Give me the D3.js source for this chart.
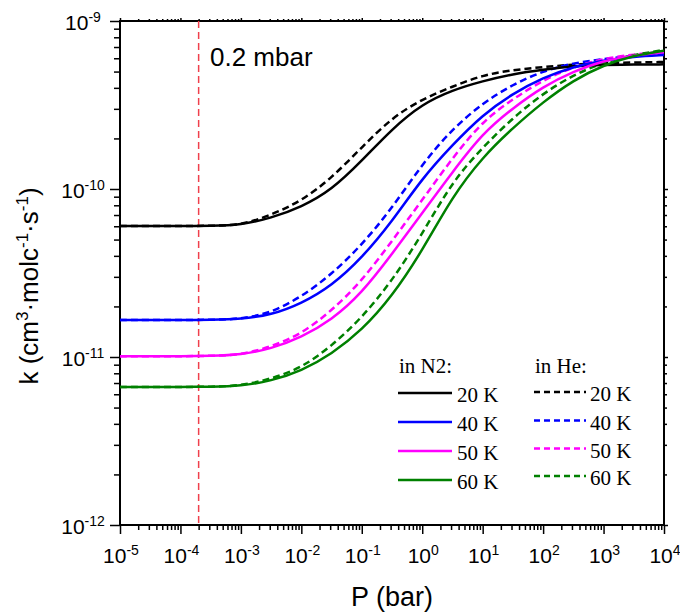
<!DOCTYPE html>
<html>
<head>
<meta charset="utf-8">
<script src="https://cdn.jsdelivr.net/npm/d3@7"></script>
<style>
  body { margin: 0; background: #ffffff; }
  svg { display: block; }
</style>
</head>
<body>
<svg id="chart" width="680" height="613"></svg>
<script>
// Pressure grid (bar), half-decade steps
const pressureBar = [1e-5, 3.16e-5, 1e-4, 3.16e-4, 1e-3, 3.16e-3, 1e-2, 3.16e-2, 0.1, 0.316, 1, 3.16, 10, 31.6, 100, 316, 1000, 3160, 1e4];

// Rate coefficients k (cm^3 molecule^-1 s^-1) in N2 buffer gas
const kN2_20K = [6.02e-11, 6.02e-11, 6.02e-11, 6.04e-11, 6.11e-11, 6.72e-11, 7.81e-11, 9.86e-11, 1.47e-10, 2.28e-10, 3.21e-10, 3.88e-10, 4.39e-10, 4.84e-10, 5.14e-10, 5.40e-10, 5.47e-10, 5.51e-10, 5.52e-10];
const kN2_40K = [1.66e-11, 1.66e-11, 1.66e-11, 1.665e-11, 1.68e-11, 1.78e-11, 2.08e-11, 2.65e-11, 3.88e-11, 6.39e-11, 1.16e-10, 1.83e-10, 2.77e-10, 3.70e-10, 4.60e-10, 5.35e-10, 5.83e-10, 6.14e-10, 6.27e-10];
const kN2_50K = [1.01e-11, 1.01e-11, 1.01e-11, 1.015e-11, 1.03e-11, 1.12e-11, 1.31e-11, 1.66e-11, 2.40e-11, 4.10e-11, 7.20e-11, 1.26e-10, 2.15e-10, 3.03e-10, 4.07e-10, 5.01e-10, 5.82e-10, 6.25e-10, 6.51e-10];
const kN2_60K = [6.63e-12, 6.63e-12, 6.63e-12, 6.65e-12, 6.72e-12, 7.20e-12, 8.25e-12, 1.04e-11, 1.44e-11, 2.29e-11, 4.28e-11, 9.04e-11, 1.55e-10, 2.31e-10, 3.30e-10, 4.44e-10, 5.47e-10, 6.23e-10, 6.66e-10];

// Rate coefficients k in He buffer gas
const kHe_20K = [6.02e-11, 6.02e-11, 6.02e-11, 6.04e-11, 6.08e-11, 7.00e-11, 8.48e-11, 1.16e-10, 1.77e-10, 2.66e-10, 3.43e-10, 4.07e-10, 4.77e-10, 5.11e-10, 5.32e-10, 5.51e-10, 5.62e-10, 5.66e-10, 5.70e-10];
const kHe_40K = [1.66e-11, 1.66e-11, 1.66e-11, 1.665e-11, 1.68e-11, 1.83e-11, 2.28e-11, 3.10e-11, 4.64e-11, 7.67e-11, 1.41e-10, 2.28e-10, 3.24e-10, 4.20e-10, 5.04e-10, 5.62e-10, 5.94e-10, 6.23e-10, 6.41e-10];
const kHe_50K = [1.01e-11, 1.01e-11, 1.01e-11, 1.015e-11, 1.03e-11, 1.15e-11, 1.37e-11, 1.88e-11, 2.83e-11, 4.90e-11, 8.60e-11, 1.53e-10, 2.54e-10, 3.43e-10, 4.46e-10, 5.32e-10, 5.98e-10, 6.32e-10, 6.57e-10];
const kHe_60K = [6.63e-12, 6.63e-12, 6.63e-12, 6.65e-12, 6.74e-12, 7.40e-12, 8.60e-12, 1.16e-11, 1.71e-11, 2.83e-11, 5.40e-11, 1.11e-10, 1.77e-10, 2.65e-10, 3.71e-10, 4.77e-10, 5.68e-10, 6.29e-10, 6.72e-10];

const temperatureLabels = ["20 K", "40 K", "50 K", "60 K"];
const seriesColors = ["#000000", "#0000ff", "#ff00ff", "#008000"];
const seriesN2 = [kN2_20K, kN2_40K, kN2_50K, kN2_60K];
const seriesHe = [kHe_20K, kHe_40K, kHe_50K, kHe_60K];

const xTickExponents = [-5, -4, -3, -2, -1, 0, 1, 2, 3, 4];
const yTickExponents = [-12, -11, -10, -9];

const markerPressure = 2e-4;
const markerLabel = "0.2 mbar";

// ---------------------------------------------------------------
const svg = d3.select("#chart");
const plot = { left: 120, right: 664, top: 21, bottom: 525 };

const x = d3.scaleLog().domain([1e-5, 1e4]).range([plot.left, plot.right]);
const y = d3.scaleLog().domain([1e-12, 1e-9]).range([plot.bottom, plot.top]);

function minorValues(exps) {
  const out = [];
  for (let i = 0; i < exps.length - 1; i++) {
    for (let j = 2; j <= 9; j++) out.push(j * Math.pow(10, exps[i]));
  }
  return out;
}
const xMajor = xTickExponents.map(e => Math.pow(10, e));
const yMajor = yTickExponents.map(e => Math.pow(10, e));
const xMinor = minorValues(xTickExponents);
const yMinor = minorValues(yTickExponents);

svg.append("defs").append("clipPath").attr("id", "plotClip")
  .append("rect")
  .attr("x", plot.left).attr("y", plot.top)
  .attr("width", plot.right - plot.left).attr("height", plot.bottom - plot.top);

// Tick marks for all four sides
function tickGroup(axisFn, scale, values, size, transform) {
  const g = svg.append("g")
    .attr("transform", transform)
    .call(axisFn(scale).tickValues(values).tickSize(size).tickFormat(""));
  g.select(".domain").remove();
  g.selectAll("line").attr("stroke", "#000").attr("stroke-width", 1.5);
  return g;
}
tickGroup(d3.axisBottom, x, xMajor, 9, `translate(0,${plot.bottom})`);
tickGroup(d3.axisBottom, x, xMinor, 5, `translate(0,${plot.bottom})`);
tickGroup(d3.axisLeft, y, yMajor, 10, `translate(${plot.left},0)`);
tickGroup(d3.axisLeft, y, yMinor, 6, `translate(${plot.left},0)`);
tickGroup(d3.axisTop, x, xMajor, 3, `translate(0,${plot.top})`);
tickGroup(d3.axisTop, x, xMinor, 2, `translate(0,${plot.top})`);
tickGroup(d3.axisRight, y, yMajor, 4, `translate(${plot.right},0)`);
tickGroup(d3.axisRight, y, yMinor, 3, `translate(${plot.right},0)`);

// Frame
svg.append("rect")
  .attr("x", plot.left).attr("y", plot.top)
  .attr("width", plot.right - plot.left).attr("height", plot.bottom - plot.top)
  .attr("fill", "none").attr("stroke", "#000").attr("stroke-width", 2);

// Power-of-ten tick labels
const sansFont = "'Liberation Sans', Arial, sans-serif";
function powerLabel(sel, exp) {
  sel.append("tspan").text("10");
  sel.append("tspan").attr("dy", -8).attr("font-size", 14).text(exp);
}
xTickExponents.forEach(e => {
  svg.append("text")
    .attr("x", x(Math.pow(10, e)) + 1).attr("y", 563)
    .attr("text-anchor", "middle")
    .attr("font-family", sansFont).attr("font-size", 21)
    .call(powerLabel, e);
});
yTickExponents.forEach(e => {
  svg.append("text")
    .attr("x", 83).attr("y", y(Math.pow(10, e)) + 9)
    .attr("text-anchor", "middle")
    .attr("font-family", sansFont).attr("font-size", 21)
    .call(powerLabel, e);
});

// Axis titles
svg.append("text")
  .attr("x", (plot.left + plot.right) / 2).attr("y", 606)
  .attr("text-anchor", "middle")
  .attr("font-family", sansFont).attr("font-size", 27)
  .text("P (bar)");

const yTitle = svg.append("text")
  .attr("transform", "translate(38,286) rotate(-90)")
  .attr("text-anchor", "middle")
  .attr("font-family", sansFont).attr("font-size", 26);
yTitle.append("tspan").text("k (cm");
yTitle.append("tspan").attr("dy", -10).attr("font-size", 17).text("3");
yTitle.append("tspan").attr("dy", 10).text("·molc");
yTitle.append("tspan").attr("dy", -10).attr("font-size", 17).text("-1");
yTitle.append("tspan").attr("dy", 10).text("·s");
yTitle.append("tspan").attr("dy", -10).attr("font-size", 17).text("-1");
yTitle.append("tspan").attr("dy", 10).text(")");

// Reference pressure marker
svg.append("line")
  .attr("x1", x(markerPressure)).attr("x2", x(markerPressure))
  .attr("y1", plot.top).attr("y2", plot.bottom)
  .attr("stroke", "#f0404c").attr("stroke-width", 1.5)
  .attr("stroke-dasharray", "7,4");
svg.append("text")
  .attr("x", 210).attr("y", 66)
  .attr("font-family", sansFont).attr("font-size", 26)
  .text(markerLabel);

// Curves (smoothed through the half-decade samples)
const line = d3.line()
  .x((d, i) => x(pressureBar[i]))
  .y(d => y(d))
  .curve(d3.curveBasis);

const curves = svg.append("g").attr("clip-path", "url(#plotClip)");
seriesHe.forEach((s, i) => {
  curves.append("path").datum(s)
    .attr("d", line).attr("fill", "none")
    .attr("stroke", seriesColors[i]).attr("stroke-width", 2.5)
    .attr("stroke-dasharray", "7,4");
});
seriesN2.forEach((s, i) => {
  curves.append("path").datum(s)
    .attr("d", line).attr("fill", "none")
    .attr("stroke", seriesColors[i]).attr("stroke-width", 2.5);
});

// Legend
const serifFont = "'Liberation Serif', 'Times New Roman', serif";
const legend = svg.append("g").attr("font-family", serifFont).attr("font-size", 21);
legend.append("text").attr("x", 399).attr("y", 373).text("in N2:");
legend.append("text").attr("x", 535).attr("y", 373).text("in He:");
const n2Rows = [393, 422, 451, 480];
const heRows = [392, 420.5, 448.5, 476];
temperatureLabels.forEach((t, i) => {
  legend.append("line")
    .attr("x1", 398).attr("x2", 452).attr("y1", n2Rows[i]).attr("y2", n2Rows[i])
    .attr("stroke", seriesColors[i]).attr("stroke-width", 2.5);
  legend.append("text").attr("x", 457).attr("y", n2Rows[i] + 9).text(t);
  legend.append("line")
    .attr("x1", 534).attr("x2", 586).attr("y1", heRows[i]).attr("y2", heRows[i])
    .attr("stroke", seriesColors[i]).attr("stroke-width", 2.5)
    .attr("stroke-dasharray", "6,4");
  legend.append("text").attr("x", 590).attr("y", heRows[i] + 9).text(t);
});
</script>
</body>
</html>
